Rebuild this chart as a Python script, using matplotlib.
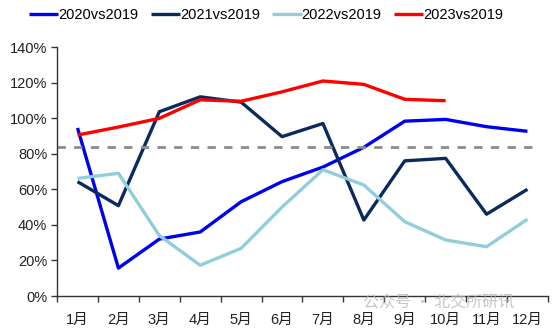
import matplotlib
matplotlib.use("Agg")
import matplotlib.pyplot as plt
import numpy as np

plt.rcParams['font.family'] = ['Liberation Sans', 'Noto Sans CJK SC', 'DejaVu Sans']

months = ["1月", "2月", "3月", "4月", "5月", "6月", "7月", "8月", "9月", "10月", "11月", "12月"]
s2020 = [94.5, 15.7, 32, 36, 53, 64.3, 72.5, 83.6, 98.3, 99.3, 95.2, 92.6]
s2021 = [64.3, 50.8, 103.6, 112, 109, 89.6, 97, 42.7, 76, 77.4, 46, 60]
s2022 = [66.1, 69, 34, 17.3, 26.8, 50, 71, 62.4, 41.8, 31.5, 27.7, 43.2]
s2023 = [90.5, 95, 99.9, 110.3, 109.5, 114.8, 120.9, 119, 110.6, 109.8]
ref_level = 84
series_names = ["2020vs2019", "2021vs2019", "2022vs2019", "2023vs2019"]
colors = ["#0000F0", "#0A2A5E", "#92CDDC", "#FF0000"]

fig = plt.figure(figsize=(5.54, 3.32), dpi=100)
ax = fig.add_axes([0.103, 0.1084, 0.886, 0.75])

x = np.arange(len(months))
for vals, name, c in zip([s2020, s2021, s2022, s2023], series_names, colors):
    ax.plot(x[:len(vals)], vals, color=c, lw=2.4, label=name, solid_capstyle='butt')

ax.hlines(ref_level, -0.5, 11.2, colors="#8C8C8C", linestyles=(0, (3, 3)), lw=2.0)

ax.set_xlim(-0.5, 11.5)
ax.set_ylim(0, 140)
ax.set_yticks(np.arange(0, 141, 20))
ax.set_yticklabels([f"{v}%" for v in range(0, 141, 20)])
ax.set_xticks(x)
ax.set_xticklabels(months)
ax.set_xticks(np.arange(-0.5, 11.6, 1), minor=True)
ax.tick_params(axis='x', which='major', length=0, pad=12, labelsize=10.5, colors="#222222")
ax.tick_params(axis='x', which='minor', length=4, width=1, color="#333333", direction='out')
ax.tick_params(axis='y', length=4, width=1, color="#333333", labelsize=10.5, labelcolor="#222222", pad=3)

for s in ["top", "right"]:
    ax.spines[s].set_visible(False)
for s in ["left", "bottom"]:
    ax.spines[s].set_color("#333333")
    ax.spines[s].set_linewidth(1.0)

ax.legend(loc="center", bbox_to_anchor=(0.426, 1.13), ncol=4, frameon=False,
          fontsize=10.5, handlelength=2.0, handletextpad=0.0, columnspacing=0.85,
          borderaxespad=0.0)

fig.text(0.655, 0.088, "公众号 · 北交所研讯", fontsize=11.5, color="#B4B4B4", alpha=0.75,
         va="center", family=['Noto Sans CJK SC', 'DejaVu Sans'])

fig.savefig("out.png", dpi=100)
